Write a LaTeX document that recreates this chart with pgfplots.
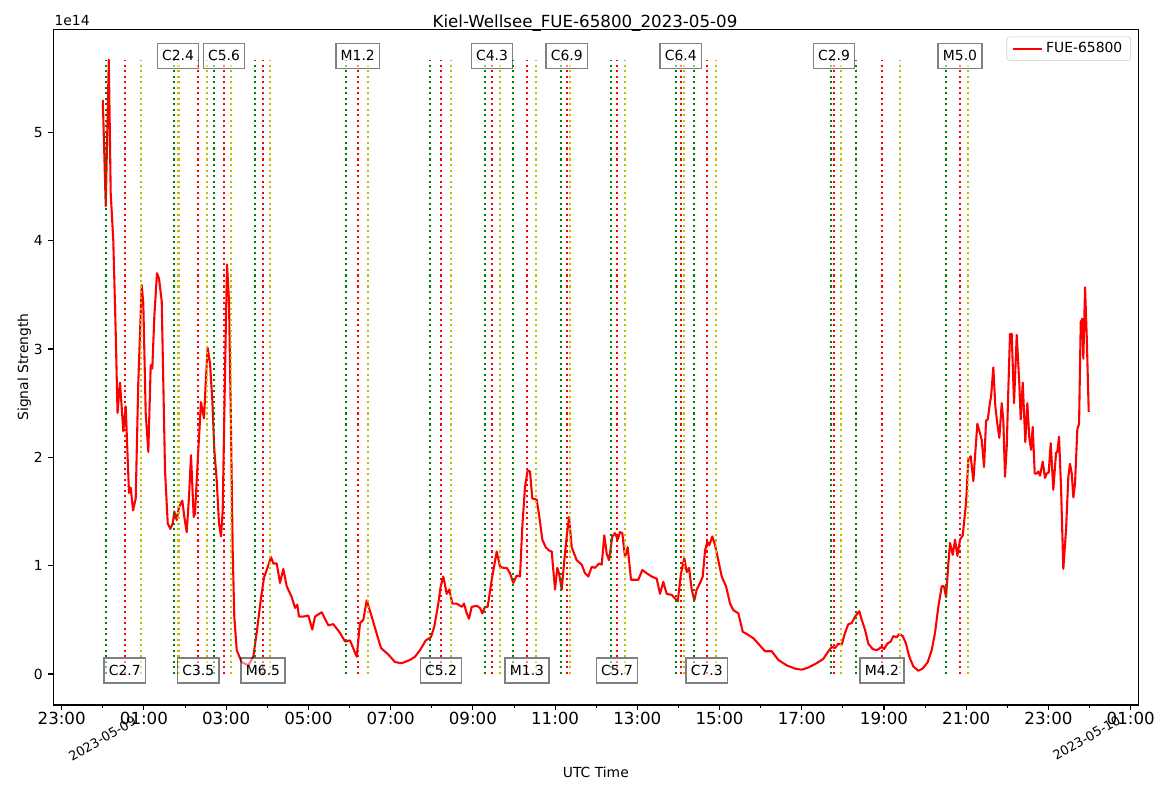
\documentclass[border=0pt]{standalone}
\usepackage{fontspec}
\setmainfont{DejaVu Sans}
\usepackage{pgfplots}
\usepackage{pgfplotstable}
\pgfplotsset{compat=1.18}
\definecolor{mgreen}{rgb}{0,0.5,0}
\definecolor{myellow}{rgb}{0.75,0.75,0}

\pgfplotstableread{
h v
0.000 5.30
0.071 4.32
0.146 5.67
0.192 4.44
0.255 4.00
0.314 3.15
0.358 2.41
0.418 2.69
0.499 2.24
0.557 2.47
0.637 1.67
0.679 1.72
0.735 1.51
0.800 1.62
0.863 2.69
0.946 3.59
0.985 3.42
1.043 2.41
1.107 2.05
1.165 2.85
1.204 2.82
1.253 3.30
1.318 3.70
1.367 3.65
1.433 3.44
1.513 1.88
1.579 1.39
1.642 1.34
1.700 1.39
1.739 1.50
1.797 1.42
1.853 1.54
1.934 1.60
1.982 1.45
2.041 1.31
2.097 1.64
2.145 2.02
2.211 1.45
2.242 1.48
2.323 2.07
2.388 2.51
2.420 2.44
2.461 2.36
2.510 2.74
2.551 3.01
2.607 2.87
2.663 2.53
2.712 2.07
2.770 1.79
2.826 1.39
2.875 1.27
2.916 1.51
2.955 2.38
2.989 3.14
3.021 3.78
3.069 3.45
3.111 2.44
3.159 1.14
3.198 0.53
3.257 0.22
3.378 0.11
3.539 0.08
3.660 0.16
3.743 0.38
3.840 0.68
3.921 0.89
3.986 0.96
4.091 1.08
4.147 1.02
4.230 1.02
4.310 0.84
4.390 0.97
4.473 0.81
4.594 0.71
4.675 0.61
4.731 0.64
4.772 0.53
4.877 0.53
4.998 0.54
5.095 0.41
5.161 0.53
5.324 0.57
5.485 0.45
5.606 0.46
5.769 0.38
5.891 0.30
6.012 0.31
6.175 0.16
6.256 0.47
6.336 0.50
6.419 0.68
6.540 0.53
6.686 0.34
6.766 0.24
6.944 0.18
7.107 0.11
7.270 0.10
7.472 0.13
7.593 0.16
7.715 0.22
7.854 0.31
7.982 0.34
8.063 0.44
8.160 0.65
8.218 0.81
8.282 0.90
8.364 0.74
8.428 0.78
8.501 0.65
8.608 0.65
8.729 0.62
8.785 0.65
8.851 0.56
8.907 0.51
8.972 0.62
9.094 0.63
9.174 0.61
9.230 0.56
9.296 0.62
9.361 0.62
9.459 0.87
9.515 0.99
9.580 1.13
9.661 0.99
9.741 0.98
9.824 0.98
9.904 0.93
9.984 0.84
10.067 0.91
10.147 0.90
10.203 1.36
10.269 1.73
10.334 1.88
10.390 1.87
10.446 1.62
10.553 1.61
10.617 1.45
10.690 1.24
10.772 1.17
10.853 1.14
10.918 1.13
10.998 0.78
11.054 0.98
11.096 0.93
11.161 0.78
11.225 1.05
11.283 1.27
11.339 1.45
11.405 1.17
11.526 1.05
11.648 1.01
11.728 0.93
11.808 0.90
11.891 0.99
11.971 0.98
12.069 1.02
12.134 1.01
12.197 1.28
12.256 1.11
12.312 1.05
12.392 1.27
12.458 1.30
12.523 1.24
12.579 1.31
12.635 1.30
12.701 1.08
12.766 1.17
12.847 0.87
12.944 0.87
13.024 0.87
13.122 0.96
13.229 0.93
13.350 0.90
13.472 0.88
13.552 0.74
13.632 0.85
13.715 0.74
13.837 0.73
13.983 0.67
14.063 0.93
14.143 1.07
14.202 0.94
14.258 0.98
14.323 0.78
14.387 0.68
14.445 0.78
14.525 0.84
14.591 0.90
14.647 1.14
14.703 1.22
14.751 1.19
14.824 1.27
14.890 1.19
14.970 1.05
15.053 0.90
15.158 0.81
15.255 0.65
15.335 0.59
15.457 0.56
15.564 0.39
15.661 0.37
15.822 0.33
15.943 0.28
16.106 0.21
16.269 0.21
16.430 0.13
16.634 0.08
16.836 0.05
16.999 0.04
17.159 0.06
17.363 0.10
17.524 0.14
17.646 0.21
17.728 0.25
17.809 0.24
17.889 0.28
17.971 0.27
18.052 0.38
18.132 0.46
18.215 0.47
18.295 0.53
18.400 0.58
18.458 0.50
18.538 0.41
18.618 0.28
18.725 0.23
18.823 0.22
18.944 0.25
19.000 0.23
19.081 0.28
19.163 0.30
19.227 0.35
19.309 0.34
19.372 0.37
19.455 0.35
19.535 0.28
19.615 0.16
19.713 0.07
19.834 0.03
19.941 0.05
20.063 0.11
20.160 0.22
20.241 0.38
20.321 0.62
20.404 0.81
20.460 0.81
20.509 0.71
20.565 1.02
20.606 1.21
20.672 1.10
20.728 1.24
20.784 1.09
20.849 1.24
20.915 1.28
20.995 1.58
21.051 1.98
21.109 2.01
21.173 1.78
21.214 2.01
21.270 2.31
21.336 2.22
21.377 2.16
21.433 1.91
21.482 2.34
21.523 2.35
21.579 2.51
21.604 2.56
21.659 2.83
21.708 2.47
21.756 2.31
21.805 2.18
21.863 2.50
21.902 2.34
21.943 1.82
21.985 2.10
22.023 2.62
22.065 3.14
22.106 3.14
22.162 2.50
22.228 3.13
22.291 2.68
22.325 2.35
22.374 2.69
22.437 2.14
22.486 2.50
22.534 2.18
22.576 2.07
22.617 2.28
22.666 1.85
22.714 1.85
22.753 1.87
22.795 1.83
22.860 1.96
22.916 1.81
22.957 1.85
23.006 1.86
23.055 2.13
23.118 1.70
23.184 2.04
23.215 2.05
23.257 2.19
23.305 1.73
23.361 0.97
23.427 1.33
23.483 1.82
23.524 1.94
23.566 1.85
23.605 1.63
23.646 1.76
23.702 2.26
23.744 2.31
23.785 3.25
23.824 3.28
23.848 2.91
23.890 3.57
23.931 3.11
23.979 2.42
}\signal

\tikzset{
  vl/.style={line width=1.5pt, dash pattern=on 1.5pt off 2.475pt},
  flbox/.style={draw=black, draw opacity=0.5, fill=white, fill opacity=0.5, text opacity=1,
    line width=1pt, inner xsep=3.5pt, inner ysep=0pt, minimum height=18pt,
    font=\fontsize{10}{12}\selectfont, anchor=center},
}

\begin{document}
\begin{tikzpicture}
\path[use as bounding box] (0,0) rectangle (841.68pt,570.24pt);
\begin{axis}[
  at={(38.38pt,62.64pt)}, anchor=south west,
  scale only axis, width=781.2pt, height=486.5pt,
  xmin=-1.204, xmax=25.185, ymin=-0.286, ymax=5.951,
  xtick={-1,1,...,25},
  xticklabels={23:00,01:00,03:00,05:00,07:00,09:00,11:00,13:00,15:00,17:00,19:00,21:00,23:00,01:00},
  minor xtick={0,2,...,24},
  ytick={0,1,2,3,4,5}, yticklabels={0,1,2,3,4,5},
  tick align=outside, tick pos=left,
  major tick length=3.5pt, minor tick length=2pt,
  major tick style={black, line width=0.8pt},
  minor tick style={black, line width=0.6pt},
  axis line style={line width=0.8pt},
  xticklabel style={font=\fontsize{12}{14}\selectfont, inner sep=0pt, anchor=north, yshift=-1.5pt},
  yticklabel style={font=\fontsize{10}{12}\selectfont, inner sep=0pt, anchor=east, xshift=-4pt},
  clip=false,
  legend style={at={(1,1)}, anchor=north east, xshift=-5.3pt, yshift=-5.3pt,
    draw=black!20, rounded corners=2pt, font=\fontsize{10}{12}\selectfont,
    inner xsep=4pt, inner ysep=2pt, cells={anchor=west},
    /tikz/every even column/.append style={column sep=3pt}},
  legend image code/.code={\draw[#1] (0pt,0pt) -- (20.9pt,0pt);},
]
\addplot[red, line width=1.5pt, line join=round] table[x=h, y=v] {\signal};
\addlegendentry{FUE-65800}

\pgfplotsinvokeforeach{0.085,1.732,1.836,2.705,3.702,5.915,7.958,9.296,9.970,11.144,12.360,13.941,14.379,17.704,18.319,20.501}{
  \addplot[mgreen, vl, forget plot] coordinates {(#1,0) (#1,5.67)};
}
\pgfplotsinvokeforeach{0.533,1.829,2.323,2.948,3.896,6.200,8.226,9.466,10.317,11.283,12.506,14.056,14.688,17.784,18.951,20.849}{
  \addplot[red, vl, forget plot] coordinates {(#1,0) (#1,5.67)};
}
\pgfplotsinvokeforeach{0.929,1.841,2.527,3.111,4.067,6.443,8.462,9.661,10.536,11.363,12.700,14.136,14.907,17.947,19.389,21.044}{
  \addplot[myellow, vl, forget plot] coordinates {(#1,0) (#1,5.67)};
}

\node[flbox] at (axis cs:0.533,0.032) {C2.7};
\node[flbox] at (axis cs:1.829,5.706) {C2.4};
\node[flbox] at (axis cs:2.323,0.032) {C3.5};
\node[flbox] at (axis cs:2.948,5.706) {C5.6};
\node[flbox] at (axis cs:3.896,0.032) {M6.5};
\node[flbox] at (axis cs:6.200,5.706) {M1.2};
\node[flbox] at (axis cs:8.226,0.032) {C5.2};
\node[flbox] at (axis cs:9.466,5.706) {C4.3};
\node[flbox] at (axis cs:10.317,0.032) {M1.3};
\node[flbox] at (axis cs:11.283,5.706) {C6.9};
\node[flbox] at (axis cs:12.506,0.032) {C5.7};
\node[flbox] at (axis cs:14.056,5.706) {C6.4};
\node[flbox] at (axis cs:14.688,0.032) {C7.3};
\node[flbox] at (axis cs:17.784,5.706) {C2.9};
\node[flbox] at (axis cs:18.951,0.032) {M4.2};
\node[flbox] at (axis cs:20.849,5.706) {M5.0};
\end{axis}

% texts outside the axis (px -> pt: x*0.72, (792-y)*0.72)
\node[anchor=base, font=\fontsize{12}{14}\selectfont] at (421.2pt,550.1pt) {Kiel-Wellsee\_FUE-65800\_2023-05-09};
\node[anchor=base west, font=\fontsize{10}{12}\selectfont, inner sep=0pt] at (39.1pt,552.2pt) {1e14};
\node[anchor=base, font=\fontsize{10}{12}\selectfont, inner sep=0pt] at (429.0pt,10.1pt) {UTC Time};
\node[anchor=base, rotate=90, font=\fontsize{10}{12}\selectfont, inner sep=0pt] at (20.2pt,306.0pt) {Signal Strength};
\node[rotate=30, font=\fontsize{9.3}{11}\selectfont, inner sep=0pt] at (73.7pt,38.5pt) {2023-05-09};
\node[rotate=30, font=\fontsize{9.3}{11}\selectfont, inner sep=0pt] at (782.3pt,38.9pt) {2023-05-10};
\end{tikzpicture}
\end{document}
